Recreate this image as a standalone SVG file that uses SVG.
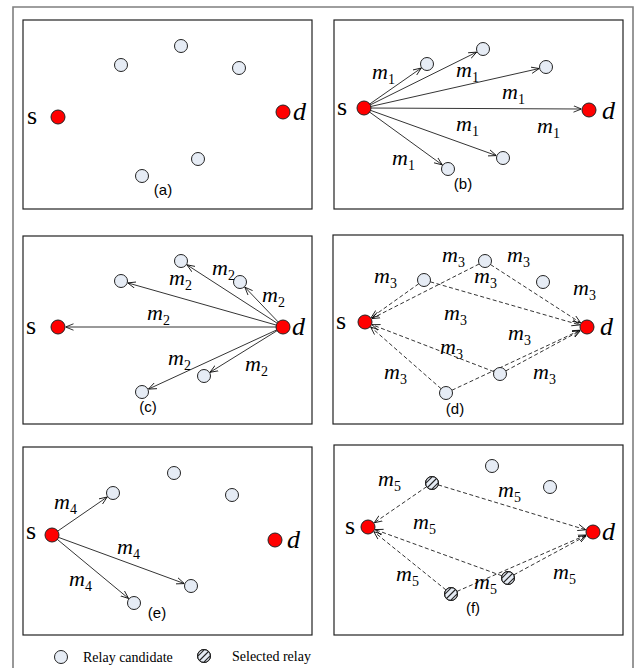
<svg xmlns="http://www.w3.org/2000/svg" width="639" height="668" viewBox="0 0 639 668">
<style>
.frame{fill:none;stroke:#7f7f7f;stroke-width:1.6}
.box{fill:#fff;stroke:#222;stroke-width:1.2}
.relay{fill:#e6ecf5;stroke:#222;stroke-width:1}
.red{fill:#ff0000;stroke:#222;stroke-width:1}
.ln{fill:none;stroke:#000;stroke-width:0.8;marker-end:url(#arr)}
.dl{fill:none;stroke:#000;stroke-width:0.8;stroke-dasharray:4,2.5;marker-end:url(#arr)}
.m{font-family:"Liberation Serif",serif;font-style:italic;font-size:22px;fill:#000}
.sub{font-style:normal;font-size:14px}
.sn{font-family:"Liberation Serif",serif;font-size:26px;fill:#000}
.dn{font-family:"Liberation Serif",serif;font-style:italic;font-size:26px;fill:#000}
.pl{font-family:"Liberation Sans",sans-serif;font-size:15px;fill:#000;text-anchor:middle}
.lg{font-family:"Liberation Serif",serif;font-size:14px;fill:#000}
</style>
<defs>
<marker id="arr" viewBox="0 0 10 10" refX="10" refY="5" markerWidth="8" markerHeight="8" orient="auto" markerUnits="userSpaceOnUse">
<path d="M0,1 L10,5 L0,9" fill="none" stroke="#000" stroke-width="1"/>
</marker>
<clipPath id="hc"><circle cx="0" cy="0" r="6.5"/></clipPath>
<g id="hatch">
<circle cx="0" cy="0" r="6.5" class="relay"/>
<g clip-path="url(#hc)" stroke="#222" stroke-width="1.1">
<line x1="-8" y1="2" x2="2" y2="-8"/>
<line x1="-6" y1="6" x2="6" y2="-6"/>
<line x1="-2" y1="8" x2="8" y2="-2"/>
</g>
<circle cx="0" cy="0" r="6.5" fill="none" stroke="#222" stroke-width="1"/>
</g>
</defs>

<path class="frame" d="M13,668 V7 H633 V668"/>

<!-- panel boxes -->
<g id="panels">
<rect class="box" x="23" y="20" width="289" height="189"/>
<rect class="box" x="334" y="20" width="289" height="189"/>
<rect class="box" x="23" y="236" width="289" height="188"/>
<rect class="box" x="333" y="235" width="290" height="189"/>
<rect class="box" x="23" y="447" width="289" height="188"/>
<rect class="box" x="334" y="445" width="289" height="190"/>
</g>

<!-- connectors -->
<g id="connectors">
<!-- (b) -->
<line class="ln" x1="364" y1="108" x2="421.3" y2="68"/>
<line class="ln" x1="364" y1="108" x2="476.7" y2="52.1"/>
<line class="ln" x1="364" y1="108" x2="539.2" y2="68.5"/>
<line class="ln" x1="364" y1="108" x2="581.5" y2="109"/>
<line class="ln" x1="364" y1="108" x2="496.4" y2="155.6"/>
<line class="ln" x1="364" y1="108" x2="442.3" y2="164.9"/>
<!-- (c) -->
<line class="ln" x1="283" y1="327" x2="186.9" y2="264.8"/>
<line class="ln" x1="283" y1="327" x2="127.7" y2="282.9"/>
<line class="ln" x1="283" y1="327" x2="244.8" y2="287.1"/>
<line class="ln" x1="283" y1="327" x2="65.5" y2="327"/>
<line class="ln" x1="283" y1="327" x2="210" y2="372.3"/>
<line class="ln" x1="283" y1="327" x2="148.4" y2="389.1"/>
<!-- (d) -->
<line class="dl" x1="424" y1="280" x2="371.1" y2="317.7"/>
<line class="dl" x1="424" y1="280" x2="579.8" y2="324.9"/>
<line class="dl" x1="485" y1="261" x2="371.7" y2="318.6"/>
<line class="dl" x1="485" y1="261" x2="580.7" y2="322.9"/>
<line class="dl" x1="500" y1="374" x2="372" y2="324.7"/>
<line class="dl" x1="500" y1="374" x2="580.4" y2="330.6"/>
<line class="dl" x1="446" y1="393" x2="370.6" y2="326.9"/>
<line class="dl" x1="446" y1="393" x2="580.2" y2="330.2"/>
<!-- (e) -->
<line class="ln" x1="52" y1="535" x2="107.2" y2="497"/>
<line class="ln" x1="52" y1="535" x2="184.4" y2="583.6"/>
<line class="ln" x1="52" y1="535" x2="128.6" y2="598.5"/>
<!-- (f) -->
<line class="dl" x1="432" y1="483" x2="374.2" y2="522.8"/>
<line class="dl" x1="432" y1="483" x2="585.8" y2="529.8"/>
<line class="dl" x1="508" y1="578" x2="375" y2="529.6"/>
<line class="dl" x1="508" y1="578" x2="586.4" y2="535.6"/>
<line class="dl" x1="451" y1="594" x2="373.8" y2="531.7"/>
<line class="dl" x1="451" y1="594" x2="586.1" y2="535"/>
</g>

<!-- (a) nodes -->
<g id="a-s"><circle class="red" cx="58" cy="117" r="7"/><text class="sn" x="27" y="124">s</text></g>
<g id="a-d"><circle class="red" cx="283" cy="112" r="7"/><text class="dn" x="293" y="120">d</text></g>
<g id="a-r1"><circle class="relay" cx="121" cy="65" r="6.5"/></g>
<g id="a-r2"><circle class="relay" cx="181" cy="46" r="6.5"/></g>
<g id="a-r3"><circle class="relay" cx="239" cy="68" r="6.5"/></g>
<g id="a-r4"><circle class="relay" cx="198" cy="159" r="6.5"/></g>
<g id="a-r5"><circle class="relay" cx="142" cy="176" r="6.5"/></g>
<text class="pl" x="163" y="195">(a)</text>

<!-- (b) nodes -->
<g id="b-s"><circle class="red" cx="364" cy="108" r="7"/><text class="sn" x="337" y="115">s</text></g>
<g id="b-d"><circle class="red" cx="589" cy="110" r="7"/><text class="dn" x="602" y="119">d</text></g>
<g id="b-r1"><circle class="relay" cx="427" cy="64" r="6.5"/></g>
<g id="b-r2"><circle class="relay" cx="483" cy="49" r="6.5"/></g>
<g id="b-r3"><circle class="relay" cx="546" cy="67" r="6.5"/></g>
<g id="b-r4"><circle class="relay" cx="503" cy="158" r="6.5"/></g>
<g id="b-r5"><circle class="relay" cx="448" cy="169" r="6.5"/></g>
<g id="b-labels">
<text class="m" x="372" y="79">m<tspan class="sub" dy="5">1</tspan></text>
<text class="m" x="456" y="77">m<tspan class="sub" dy="5">1</tspan></text>
<text class="m" x="502" y="99">m<tspan class="sub" dy="5">1</tspan></text>
<text class="m" x="456" y="131">m<tspan class="sub" dy="5">1</tspan></text>
<text class="m" x="537" y="133">m<tspan class="sub" dy="5">1</tspan></text>
<text class="m" x="392" y="165">m<tspan class="sub" dy="5">1</tspan></text>
</g>
<text class="pl" x="463" y="189">(b)</text>

<!-- (c) nodes -->
<g id="c-s"><circle class="red" cx="58" cy="327" r="7"/><text class="sn" x="26" y="334">s</text></g>
<g id="c-d"><circle class="red" cx="283" cy="327" r="7"/><text class="dn" x="292" y="335">d</text></g>
<g id="c-r1"><circle class="relay" cx="181" cy="261" r="6.5"/></g>
<g id="c-r2"><circle class="relay" cx="121" cy="281" r="6.5"/></g>
<g id="c-r3"><circle class="relay" cx="240" cy="282" r="6.5"/></g>
<g id="c-r4"><circle class="relay" cx="204" cy="376" r="6.5"/></g>
<g id="c-r5"><circle class="relay" cx="142" cy="392" r="6.5"/></g>
<g id="c-labels">
<text class="m" x="212" y="275">m<tspan class="sub" dy="5">2</tspan></text>
<text class="m" x="169" y="285">m<tspan class="sub" dy="5">2</tspan></text>
<text class="m" x="262" y="302">m<tspan class="sub" dy="5">2</tspan></text>
<text class="m" x="147" y="320">m<tspan class="sub" dy="5">2</tspan></text>
<text class="m" x="168" y="365">m<tspan class="sub" dy="5">2</tspan></text>
<text class="m" x="245" y="371">m<tspan class="sub" dy="5">2</tspan></text>
</g>
<text class="pl" x="148" y="412">(c)</text>

<!-- (d) nodes -->
<g id="d-s"><circle class="red" cx="365" cy="322" r="7"/><text class="sn" x="336" y="329">s</text></g>
<g id="d-d"><circle class="red" cx="587" cy="327" r="7"/><text class="dn" x="600" y="335">d</text></g>
<g id="d-r1"><circle class="relay" cx="424" cy="280" r="6.5"/></g>
<g id="d-r2"><circle class="relay" cx="485" cy="261" r="6.5"/></g>
<g id="d-r3"><circle class="relay" cx="543" cy="282" r="6.5"/></g>
<g id="d-r4"><circle class="relay" cx="500" cy="374" r="6.5"/></g>
<g id="d-r5"><circle class="relay" cx="446" cy="393" r="6.5"/></g>
<g id="d-labels">
<text class="m" x="442" y="262">m<tspan class="sub" dy="5">3</tspan></text>
<text class="m" x="507" y="262">m<tspan class="sub" dy="5">3</tspan></text>
<text class="m" x="374" y="283">m<tspan class="sub" dy="5">3</tspan></text>
<text class="m" x="474" y="283">m<tspan class="sub" dy="5">3</tspan></text>
<text class="m" x="573" y="295">m<tspan class="sub" dy="5">3</tspan></text>
<text class="m" x="444" y="320">m<tspan class="sub" dy="5">3</tspan></text>
<text class="m" x="508" y="340">m<tspan class="sub" dy="5">3</tspan></text>
<text class="m" x="440" y="354">m<tspan class="sub" dy="5">3</tspan></text>
<text class="m" x="384" y="379">m<tspan class="sub" dy="5">3</tspan></text>
<text class="m" x="533" y="379">m<tspan class="sub" dy="5">3</tspan></text>
</g>
<text class="pl" x="455" y="414">(d)</text>

<!-- (e) nodes -->
<g id="e-s"><circle class="red" cx="52" cy="535" r="7"/><text class="sn" x="26" y="539">s</text></g>
<g id="e-d"><circle class="red" cx="275" cy="540" r="7"/><text class="dn" x="287" y="548">d</text></g>
<g id="e-r1"><circle class="relay" cx="113" cy="493" r="6.5"/></g>
<g id="e-r2"><circle class="relay" cx="174" cy="473" r="6.5"/></g>
<g id="e-r3"><circle class="relay" cx="232" cy="495" r="6.5"/></g>
<g id="e-r4"><circle class="relay" cx="191" cy="586" r="6.5"/></g>
<g id="e-r5"><circle class="relay" cx="134" cy="603" r="6.5"/></g>
<g id="e-labels">
<text class="m" x="54" y="509">m<tspan class="sub" dy="5">4</tspan></text>
<text class="m" x="117" y="554">m<tspan class="sub" dy="5">4</tspan></text>
<text class="m" x="69" y="586">m<tspan class="sub" dy="5">4</tspan></text>
</g>
<text class="pl" x="157" y="618">(e)</text>

<!-- (f) nodes -->
<g id="f-s"><circle class="red" cx="368" cy="527" r="7"/><text class="sn" x="345" y="534">s</text></g>
<g id="f-d"><circle class="red" cx="593" cy="532" r="7"/><text class="dn" x="602" y="540">d</text></g>
<g id="f-r1"><circle class="relay" cx="492" cy="466" r="6.5"/></g>
<g id="f-r2"><circle class="relay" cx="550" cy="487" r="6.5"/></g>
<g id="f-h1"><use href="#hatch" x="432" y="483"/></g>
<g id="f-h2"><use href="#hatch" x="508" y="578"/></g>
<g id="f-h3"><use href="#hatch" x="451" y="594"/></g>
<g id="f-labels">
<text class="m" x="378" y="486">m<tspan class="sub" dy="5">5</tspan></text>
<text class="m" x="498" y="497">m<tspan class="sub" dy="5">5</tspan></text>
<text class="m" x="413" y="529">m<tspan class="sub" dy="5">5</tspan></text>
<text class="m" x="396" y="581">m<tspan class="sub" dy="5">5</tspan></text>
<text class="m" x="474" y="589">m<tspan class="sub" dy="5">5</tspan></text>
<text class="m" x="553" y="579">m<tspan class="sub" dy="5">5</tspan></text>
</g>
<text class="pl" x="473" y="613">(f)</text>

<!-- legend -->
<g id="legend">
<circle class="relay" cx="61" cy="657" r="6.5"/>
<text class="lg" x="83" y="662">Relay candidate</text>
<use href="#hatch" x="204" y="656"/>
<text class="lg" x="232" y="661">Selected relay</text>
</g>
</svg>
